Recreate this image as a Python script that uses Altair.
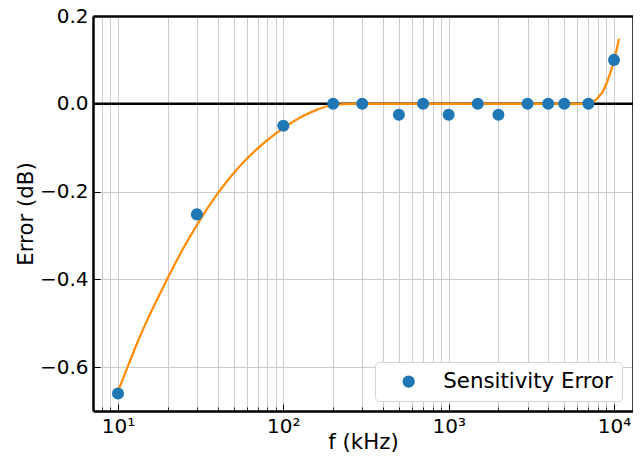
import altair as alt
import pandas as pd

# measured points
pts_f = [10, 30, 100, 200, 300, 500, 700, 1000, 1500, 2000, 3000, 4000, 5000, 7000, 10000]
pts_err = [-0.66, -0.252, -0.05, 0.0, 0.0, -0.025, 0.0, -0.025, 0.0, -0.025, 0.0, 0.0, 0.0, 0.0, 0.1]

# fitted curve
curve_f = [10, 11.5, 13.2, 15.2, 17.5, 20.1, 24.7, 30.5, 40.3, 49.6, 59.5, 70.3, 84.3, 99.6,
           131.5, 162, 200, 264, 400, 1000, 3000, 6678, 7159, 7670, 8117, 8614, 9072, 9460,
           10000, 10354, 10720]
curve_err = [-0.655, -0.597, -0.541, -0.489, -0.441, -0.395, -0.331, -0.272, -0.203, -0.160,
             -0.127, -0.101, -0.076, -0.056, -0.028, -0.0127, -0.0028, 0.0, 0.0, 0.0, 0.0,
             0.0, 0.002, 0.0075, 0.0165, 0.030, 0.049, 0.068, 0.100, 0.122, 0.148]

series_name = "Sensitivity Error"
major_x = [10, 100, 1000, 10000]
minor_x = [8, 9, 20, 30, 40, 50, 60, 70, 80, 90, 200, 300, 400, 500, 600, 700, 800, 900,
           2000, 3000, 4000, 5000, 6000, 7000, 8000, 9000]
y_ticks = [-0.6, -0.4, -0.2, 0.0, 0.2]
zero_line = [0.0]
x_domain = [7.06, 13030]
y_domain = [-0.7, 0.2]

pts = pd.DataFrame({"f": pts_f, "err": pts_err, "series": [series_name] * len(pts_f)})
curve = pd.DataFrame({"f": curve_f, "err": curve_err})
zero = pd.DataFrame({"y": zero_line})

xs = alt.Scale(type="log", domain=x_domain, nice=False)
ys = alt.Scale(domain=y_domain, nice=False, zero=False)

FONT = "DejaVu Sans"
LABEL_FS = 20
TITLE_FS = 21.3
grid_vals = sorted(major_x + minor_x)

xlabel = ("datum.value == 10 ? '10\u00b9' : datum.value == 100 ? '10\u00b2' : "
          "datum.value == 1000 ? '10\u00b3' : datum.value == 10000 ? '10\u2074' : ''")
ylabel = "replace(format(datum.value, '.1f'), '-', '\u2212')"

line = alt.Chart(curve).mark_line(color="#ff8c00", strokeWidth=2.2, interpolate="monotone").encode(
    x=alt.X("f:Q", scale=xs, axis=alt.Axis(
        orient="bottom", values=grid_vals, grid=True, gridColor="#cccccc", gridWidth=1,
        ticks=False, domain=True, domainColor="black", domainWidth=2.5,
        labelExpr=xlabel, labelPadding=5, labelFontSize=LABEL_FS, labelFont=FONT, labelColor="black",
        labelOverlap=False, labelFlush=False,
        title="f (kHz)", titleFontSize=TITLE_FS, titleFont=FONT, titleFontWeight="normal",
        titleColor="black", titleX=270, titleY=37, titleAlign="center", titleBaseline="alphabetic")),
    y=alt.Y("err:Q", scale=ys, axis=alt.Axis(
        orient="left", values=y_ticks, grid=True, gridColor="#cccccc", gridWidth=1,
        ticks=False, domain=True, domainColor="black", domainWidth=2.5,
        labelExpr=ylabel, labelPadding=5, labelFontSize=LABEL_FS, labelFont=FONT, labelColor="black",
        labelOverlap=False, labelFlush=False,
        title="Error (dB)", titleFontSize=TITLE_FS, titleFont=FONT, titleFontWeight="normal",
        titleColor="black", titleX=-60.5, titleY=197.5, titleAngle=270, titleAlign="center",
        titleBaseline="alphabetic")),
)

rule = alt.Chart(zero).mark_rule(color="black", strokeWidth=2.5).encode(
    y=alt.Y("y:Q", scale=ys, axis=None)
)

points = alt.Chart(pts).mark_circle(size=145, opacity=1).encode(
    x=alt.X("f:Q", scale=xs, axis=alt.Axis(
        orient="top", labels=False, ticks=False, grid=False, title=None,
        domain=True, domainColor="black", domainWidth=2.5)),
    y=alt.Y("err:Q", scale=ys, axis=alt.Axis(
        orient="right", labels=False, ticks=False, grid=False, title=None,
        domain=True, domainColor="black", domainWidth=2.5)),
    color=alt.Color("series:N", scale=alt.Scale(range=["#1f77b4"]), legend=alt.Legend(
        title=None, orient="none", legendX=282, legendY=346, padding=9,
        cornerRadius=4, strokeColor="#d5d5d5", fillColor="white", symbolType="circle",
        symbolSize=150, symbolStrokeWidth=0, labelFontSize=TITLE_FS, labelFont=FONT,
        labelColor="black", labelOffset=24, symbolOffset=14, labelLimit=400)),
)

major_ticks = alt.Chart(pts).mark_point(opacity=0).encode(
    x=alt.X("f:Q", scale=xs, axis=alt.Axis(
        orient="bottom", offset=-7, values=major_x, tickSize=7, ticks=True, tickColor="black",
        tickWidth=1, labels=False, domain=False, grid=False, title=None)),
    y=alt.Y("err:Q", scale=ys, axis=alt.Axis(
        orient="left", offset=-7, values=y_ticks, tickSize=7, ticks=True, tickColor="black",
        tickWidth=1, labels=False, domain=False, grid=False, title=None)),
)

minor_ticks = alt.Chart(pts).mark_point(opacity=0).encode(
    x=alt.X("f:Q", scale=xs, axis=alt.Axis(
        orient="bottom", offset=-4, values=minor_x, tickSize=4, ticks=True, tickColor="black",
        tickWidth=0.8, labels=False, domain=False, grid=False, title=None)),
    y=alt.Y("err:Q", scale=ys, axis=None),
)

chart = alt.layer(minor_ticks, major_ticks, rule, line, points).resolve_axis(
    x="independent", y="independent"
).properties(
    width=540, height=395,
    autosize=alt.AutoSizeParams(type="none"),
    padding={"left": 85, "top": 8, "right": 0, "bottom": 41},
).configure_view(stroke=None).configure(font=FONT)

chart.save("out.html", embed_options={"renderer": "svg", "actions": False})
